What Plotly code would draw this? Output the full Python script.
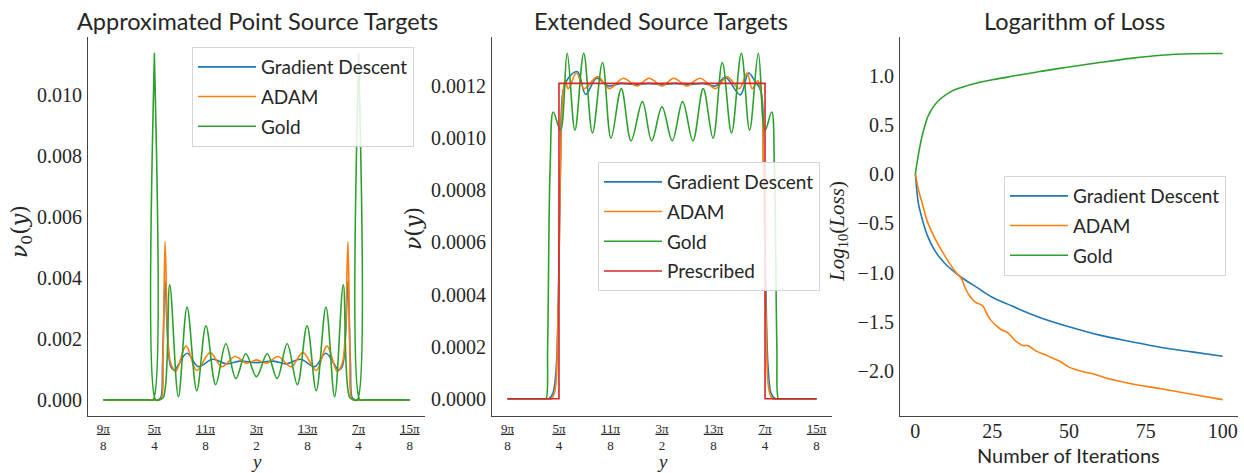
import numpy as np
import plotly.graph_objects as go

# ---------------- data (x positions in multiples of pi/8) ----------------
# Panel 1: Approximated Point Source Targets
PT_GD_U = [9.0, 10.0, 10.05, 10.12, 10.16, 10.21, 10.26, 10.32, 10.39, 10.64, 10.86, 11.14, 11.41, 11.67, 12.0,
           12.33, 12.59, 12.86, 13.14, 13.36, 13.61, 13.68, 13.74, 13.79, 13.84, 13.88, 13.95, 14.0, 15.0]
PT_GD_V = [0, 0, 0, 0.00005, 0.0012, 0.0039, 0.0020, 0.0011, 0.00098, 0.00153, 0.00109, 0.00133, 0.00118, 0.00127, 0.00122,
           0.00127, 0.00118, 0.00133, 0.00109, 0.00153, 0.00098, 0.0011, 0.0020, 0.0039, 0.0012, 0.00005, 0, 0, 0]

PT_ADAM_U = [9.0, 10.0, 10.05, 10.13, 10.17, 10.21, 10.26, 10.32, 10.42, 10.62, 10.83, 11.09, 11.32, 11.58, 11.80, 12.0,
             12.20, 12.42, 12.68, 12.91, 13.17, 13.38, 13.58, 13.68, 13.74, 13.79, 13.83, 13.87, 13.95, 14.0, 15.0]
PT_ADAM_V = [0, 0, 0, 0.00003, 0.0015, 0.00519, 0.0022, 0.0012, 0.00093, 0.00177, 0.00096, 0.00155, 0.00109, 0.00142, 0.0012, 0.00131,
             0.0012, 0.00142, 0.00109, 0.00155, 0.00096, 0.00177, 0.00093, 0.0012, 0.0022, 0.00519, 0.0015, 0.00003, 0, 0, 0]

PT_GOLD_U = [9.0, 9.90, 9.975, 10.0, 10.025, 10.10, 10.18, 10.30, 10.47, 10.64, 10.83, 11.01, 11.20, 11.40, 11.595, 11.79, 12.0,
             12.21, 12.405, 12.60, 12.80, 12.99, 13.17, 13.36, 13.53, 13.70, 13.82, 13.90, 13.975, 14.0, 14.025, 14.10, 15.0]
PT_GOLD_V = [0, 0, 0, 0.01136, 0, 0, 0.0001, 0.00377, 0.0001, 0.00304, 0.0003, 0.00243, 0.0005, 0.00184, 0.0007, 0.00151, 0.00076,
             0.00151, 0.0007, 0.00184, 0.0005, 0.00243, 0.0003, 0.00304, 0.0001, 0.00377, 0.0001, 0, 0, 0.01136, 0, 0, 0]

# Panel 2: Extended Source Targets
EX_GD_U = [9.0, 9.72, 9.76, 9.80, 9.88, 9.94, 9.99, 10.03, 10.08, 10.18, 10.36, 10.52, 10.73, 10.96, 11.2, 11.5, 11.75, 12.0,
           12.25, 12.5, 12.8, 13.04, 13.23, 13.52, 13.68, 13.80, 13.92, 13.97, 14.01, 14.06, 14.12, 14.2, 14.24, 14.28, 15.0]
EX_GD_V = [0, 0, 0, 0, 0.00002, 0.0001, 0.0004, 0.0009, 0.00118, 0.00123, 0.001255, 0.001168, 0.00123, 0.0012, 0.00121, 0.001205, 0.00121, 0.001205,
           0.00121, 0.001205, 0.00121, 0.0012, 0.001233, 0.001166, 0.00125, 0.00122, 0.00118, 0.0009, 0.0005, 0.00012, 0.00002, 0, 0, 0, 0]

EX_ADAM_U = [9.0, 9.77, 9.81, 9.85, 9.92, 9.98, 10.03, 10.08, 10.12, 10.18, 10.34, 10.49, 10.75, 10.98, 11.25, 11.51, 11.75, 12.0,
             12.23, 12.48, 12.74, 13.04, 13.26, 13.5, 13.65, 13.75, 13.86, 13.92, 13.97, 14.02, 14.08, 14.15, 14.19, 14.23, 15.0]
EX_ADAM_V = [0, 0, 0, 0, 0.00003, 0.0003, 0.0009, 0.00118, 0.00122, 0.00119, 0.00125, 0.00119, 0.001236, 0.00119, 0.00123, 0.0012, 0.00123, 0.0012,
             0.00123, 0.0012, 0.00123, 0.00119, 0.001236, 0.00119, 0.00125, 0.00119, 0.00122, 0.00118, 0.0009, 0.0003, 0.00003, 0, 0, 0, 0]

EX_GOLD_U = [9.0, 9.68, 9.72, 9.75, 9.78, 9.83, 9.89, 10.03, 10.16, 10.31, 10.48, 10.65, 10.845, 11.01, 11.21, 11.40, 11.62, 11.80, 12.0,
             12.20, 12.40, 12.60, 12.80, 12.99, 13.17, 13.35, 13.54, 13.70, 13.87, 14.0, 14.13, 14.18, 14.23, 14.26, 14.29, 14.33, 15.0]
EX_GOLD_V = [0, 0, 0, 0, 0.0002, 0.0009, 0.0011, 0.00103, 0.001325, 0.00103, 0.001325, 0.00102, 0.00129, 0.001, 0.00119, 0.00099, 0.00114, 0.00099, 0.00112,
             0.00099, 0.00114, 0.00099, 0.00119, 0.001, 0.00129, 0.00102, 0.001325, 0.00103, 0.001325, 0.00103, 0.0011, 0.0009, 0.0002, 0, 0, 0, 0]

EX_PRESC_U = [9.0, 10.0, 10.0, 14.0, 14.0, 15.0]
EX_PRESC_V = [0, 0, 0.00121, 0.00121, 0, 0]

# Panel 3: Logarithm of Loss
IT_GD = [0, 1, 2, 3, 4, 6, 8, 10, 13, 16, 20, 25, 30, 40, 50, 60, 70, 80, 90, 100]
LOSS_GD = [0, -0.30, -0.43, -0.54, -0.63, -0.76, -0.85, -0.92, -1.0, -1.07, -1.15, -1.25, -1.32, -1.45, -1.55, -1.635, -1.70, -1.76, -1.805, -1.85]

IT_ADAM = [0, 1, 2, 4, 7, 10, 13, 15, 16, 17.5, 19.5, 21, 22, 23, 24.5, 27.5, 30, 32.5, 35, 36.5, 39.5, 42, 44, 47, 50, 55, 58, 62, 69, 80, 90, 100]
LOSS_ADAM = [0, -0.16, -0.27, -0.49, -0.69, -0.85, -0.99, -1.06, -1.14, -1.23, -1.30, -1.32, -1.34, -1.40, -1.48, -1.57, -1.61, -1.69, -1.74, -1.74,
             -1.80, -1.83, -1.86, -1.90, -1.96, -2.01, -2.03, -2.07, -2.12, -2.18, -2.235, -2.29]

IT_GOLD = [0, 1, 2, 3, 4, 5, 6, 8, 12, 15, 20, 25, 30, 40, 50, 60, 70, 80, 90, 100]
LOSS_GOLD = [0, 0.20, 0.36, 0.48, 0.58, 0.64, 0.69, 0.76, 0.845, 0.88, 0.925, 0.958, 0.985, 1.04, 1.087, 1.133, 1.175, 1.207, 1.222, 1.224]

# tick labels
TICK_U = [9, 10, 11, 12, 13, 14, 15]
TICK_NUM = ["9π", "5π", "11π", "3π", "13π", "7π", "15π"]
TICK_DEN = ["8", "4", "8", "2", "8", "4", "8"]

NAMES = ["Gradient Descent", "ADAM", "Gold", "Prescribed"]
COLORS = ["#1f77b4", "#ff7f0e", "#2ca02c", "#d62728"]

PI8 = np.pi / 8
SANS = "Lato"
SERIF = "Liberation Serif"
TXT = "#262626"
W, H = 1244, 473

def rad(u):
    return [v * PI8 for v in u]

def fx(X):   # reference pixel -> paper x
    return X / W

def fy(Y):   # reference pixel -> paper y
    return 1 - Y / H

fig = go.Figure()
LW = 1.6

def add(x, y, name, color, xa, ya, leg, shape="spline"):
    fig.add_trace(go.Scatter(
        x=x, y=y, mode="lines", name=name, legend=leg, legendgroup=leg + name,
        line=dict(color=color, width=LW, shape=shape, smoothing=1.0),
        xaxis=xa, yaxis=ya))

add(rad(PT_GD_U), PT_GD_V, NAMES[0], COLORS[0], "x", "y", "legend")
add(rad(PT_ADAM_U), PT_ADAM_V, NAMES[1], COLORS[1], "x", "y", "legend")
add(rad(PT_GOLD_U), PT_GOLD_V, NAMES[2], COLORS[2], "x", "y", "legend")

add(rad(EX_GD_U), EX_GD_V, NAMES[0], COLORS[0], "x2", "y2", "legend2")
add(rad(EX_ADAM_U), EX_ADAM_V, NAMES[1], COLORS[1], "x2", "y2", "legend2")
add(rad(EX_GOLD_U), EX_GOLD_V, NAMES[2], COLORS[2], "x2", "y2", "legend2")
add(rad(EX_PRESC_U), EX_PRESC_V, NAMES[3], COLORS[3], "x2", "y2", "legend2", shape="linear")

add(IT_GD, LOSS_GD, NAMES[0], COLORS[0], "x3", "y3", "legend3")
add(IT_ADAM, LOSS_ADAM, NAMES[1], COLORS[1], "x3", "y3", "legend3")
add(IT_GOLD, LOSS_GOLD, NAMES[2], COLORS[2], "x3", "y3", "legend3")

tickvals = rad(TICK_U)
frac_text = [f"<u>{n}</u><br>{d}" for n, d in zip(TICK_NUM, TICK_DEN)]

ydom = [fy(416), fy(37)]
axis_common = dict(showgrid=False, zeroline=False, showline=True, linecolor="#444444", linewidth=1.2,
                   ticks="", mirror=False, ticklabeloverflow="allow")
fracfont = dict(family=SERIF, size=13, color=TXT)
yfont = dict(family=SERIF, size=20, color=TXT)

xfr = [8.7 * PI8, 15.3 * PI8]
fig.update_layout(
    width=W, height=H, margin=dict(l=0, r=0, t=0, b=0),
    paper_bgcolor="white", plot_bgcolor="white",
    xaxis=dict(domain=[fx(88), fx(425)], range=xfr, tickvals=tickvals, ticktext=frac_text,
               tickfont=fracfont, anchor="y", ticklabelstandoff=0, **axis_common),
    yaxis=dict(domain=ydom, range=[-0.00053, 0.0119], tickvals=[0, 0.002, 0.004, 0.006, 0.008, 0.010],
               tickformat=".3f", tickfont=yfont, anchor="x", ticklabelstandoff=1, **axis_common),
    xaxis2=dict(domain=[fx(492), fx(832)], range=xfr, tickvals=tickvals, ticktext=frac_text,
                tickfont=fracfont, anchor="y2", ticklabelstandoff=0, **axis_common),
    yaxis2=dict(domain=ydom, range=[-0.000066, 0.001388], tickvals=[0, 0.0002, 0.0004, 0.0006, 0.0008, 0.0010, 0.0012],
                tickformat=".4f", tickfont=yfont, anchor="x2", ticklabelstandoff=1, **axis_common),
    xaxis3=dict(domain=[fx(900), fx(1238)], range=[-5, 105], tickvals=[0, 25, 50, 75, 100],
                tickfont=yfont, anchor="y3", ticklabelstandoff=-3, **axis_common),
    yaxis3=dict(domain=ydom, range=[-2.456, 1.392], tickvals=[-2.0, -1.5, -1.0, -0.5, 0.0, 0.5, 1.0],
                tickformat=".1f", tickfont=yfont, anchor="x3", ticklabelstandoff=1, **axis_common),
)

leg_common = dict(bgcolor="rgba(255,255,255,0.85)", bordercolor="#d5d5d5", borderwidth=1,
                  font=dict(family=SANS, size=19, color=TXT), xanchor="left", yanchor="top",
                  tracegroupgap=2, itemwidth=58)
fig.update_layout(
    legend=dict(x=fx(192), y=fy(47), **leg_common),
    legend2=dict(x=fx(598), y=fy(162), **leg_common),
    legend3=dict(x=fx(1004), y=fy(176), **leg_common),
)

def ann(text, X, Y, size, family, angle=0, yanchor="middle"):
    fig.add_annotation(text=text, x=fx(X), y=fy(Y), xref="paper", yref="paper",
                       showarrow=False, textangle=angle, xanchor="center", yanchor=yanchor,
                       font=dict(family=family, size=size, color=TXT))

ann("Approximated Point Source Targets", 257, 5, 23.5, SANS, yanchor="top")
ann("Extended Source Targets", 661, 5, 23.5, SANS, yanchor="top")
ann("Logarithm of Loss", 1074, 5, 23.5, SANS, yanchor="top")
ann("<i>y</i>", 256, 461.5, 19, SERIF)
ann("<i>y</i>", 662, 461.5, 19, SERIF)
ann("Number of Iterations", 1068, 455, 20, SANS)
ann("<i>ν</i><sub>0</sub>(<i>y</i>)", 21, 232, 22, "DejaVu Serif", -90)
ann("<i>ν</i>(<i>y</i>)", 414, 229, 22, "DejaVu Serif", -90)
ann("<i>Log</i><sub>10</sub>(<i>Loss</i>)", 838, 232, 21, SERIF, -90)

fig.write_html("out.html", config={"displayModeBar": False},
               post_script="document.body.style.margin='0';document.body.style.overflow='hidden';")
